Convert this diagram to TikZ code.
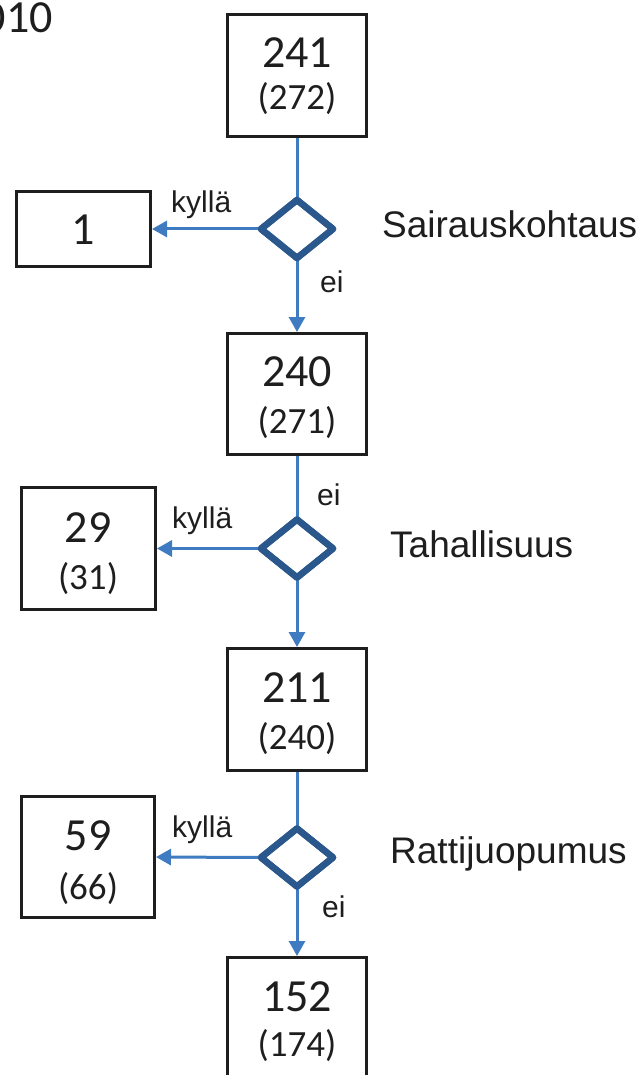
\documentclass[tikz,border=0pt]{standalone}
\usepackage{fontspec}
\setmainfont{Liberation Sans}
\newfontfamily\numfont{Carlito}
\usetikzlibrary{shapes.geometric,arrows.meta}

\definecolor{flowblue}{RGB}{63,123,193}
\definecolor{decblue}{RGB}{42,88,140}
\definecolor{inkgray}{RGB}{30,30,30}

\tikzset{
  countbox/.style={draw=inkgray, line width=3pt, rectangle, inner sep=0pt, fill=white},
  decision/.style={draw=decblue, line width=6.5pt, shape=diamond, inner sep=0pt, outer sep=0pt,
                   minimum width=72pt, minimum height=58pt, line join=round},
  bignum/.style={anchor=base, inner sep=0pt, text=inkgray, font=\numfont\fontsize{46}{54}\selectfont},
  smallnum/.style={anchor=base, inner sep=0pt, text=inkgray, font=\numfont\fontsize{37}{44}\selectfont},
  edgelabel/.style={anchor=base west, inner sep=0pt, text=inkgray, font=\fontsize{30}{36}\selectfont},
  critlabel/.style={anchor=base west, inner sep=0pt, text=inkgray, font=\fontsize{37}{44}\selectfont},
  flow/.style={draw=flowblue, line width=3pt},
  flowarrow/.style={flow, -{Triangle[length=15pt,width=16pt]}}
}

\begin{document}
\begin{tikzpicture}[x=1pt, y=-1pt]
  \useasboundingbox (0,0) rectangle (639,1075);
  \clip (0,0) rectangle (639,1075);
  \fill[white] (0,0) rectangle (639,1075);

  % year heading
  \node[anchor=base east, inner sep=0pt, text=inkgray, font=\numfont\fontsize{46}{54}\selectfont] (year) at (53,33) {2010};

  % main column of counts
  \node[countbox, minimum width=139pt, minimum height=122pt] (b1) at (297,75.5) {};
  \node[bignum] (b1n) at (297,68) {241};
  \node[smallnum] (b1p) at (297,110) {(272)};

  \node[countbox, minimum width=139pt, minimum height=121pt] (b2) at (297,394) {};
  \node[bignum] (b2n) at (297,386) {240};
  \node[smallnum] (b2p) at (297,433) {(271)};

  \node[countbox, minimum width=139pt, minimum height=122pt] (b3) at (297,709.5) {};
  \node[bignum] (b3n) at (297,702) {211};
  \node[smallnum] (b3p) at (297,749) {(240)};

  \node[countbox, minimum width=139pt, minimum height=122pt] (b4) at (297,1018.5) {};
  \node[bignum] (b4n) at (297,1011) {152};
  \node[smallnum] (b4p) at (297,1056) {(174)};

  % side boxes (yes branches)
  \node[countbox, minimum width=134pt, minimum height=75pt] (s1) at (83.5,229) {};
  \node[bignum] (s1n) at (83.5,244) {1};

  \node[countbox, minimum width=134pt, minimum height=122pt] (s2) at (88.5,548.5) {};
  \node[bignum] (s2n) at (88,542) {29};
  \node[smallnum] (s2p) at (88,589) {(31)};

  \node[countbox, minimum width=133pt, minimum height=121pt] (s3) at (88,857) {};
  \node[bignum] (s3n) at (88,850) {59};
  \node[smallnum] (s3p) at (88,899) {(66)};

  % decisions
  \node[decision] (d1) at (297,229) {};
  \node[decision] (d2) at (297,548.5) {};
  \node[decision] (d3) at (297,857.5) {};

  % connectors
  \draw[flow] (b1.south) -- (d1.north);
  \draw[flowarrow] (d1.west) -- (s1.east);
  \draw[flowarrow] (d1.south) -- (b2.north);

  \draw[flow] (b2.south) -- (d2.north);
  \draw[flowarrow] (d2.west) -- (s2.east);
  \draw[flowarrow] (d2.south) -- (b3.north);

  \draw[flow] (b3.south) -- (d3.north);
  \draw[flowarrow] (d3.west) -- (s3.east);
  \draw[flowarrow] (d3.south) -- (b4.north);

  % redraw decisions above the line ends
  \node[decision] at (d1) {};
  \node[decision] at (d2) {};
  \node[decision] at (d3) {};

  % branch labels
  \node[edgelabel] (y1) at (171,213) {kyllä};
  \node[edgelabel] (n1) at (320,292) {ei};
  \node[edgelabel] (y2) at (172,528) {kyllä};
  \node[edgelabel] (n2) at (317,505) {ei};
  \node[edgelabel] (y3) at (172,837) {kyllä};
  \node[edgelabel] (n3) at (322,917) {ei};

  % criteria
  \node[critlabel] (c1) at (382,237) {Sairauskohtaus};
  \node[critlabel] (c2) at (390,557) {Tahallisuus};
  \node[critlabel] (c3) at (390,863) {Rattijuopumus};
\end{tikzpicture}
\end{document}
